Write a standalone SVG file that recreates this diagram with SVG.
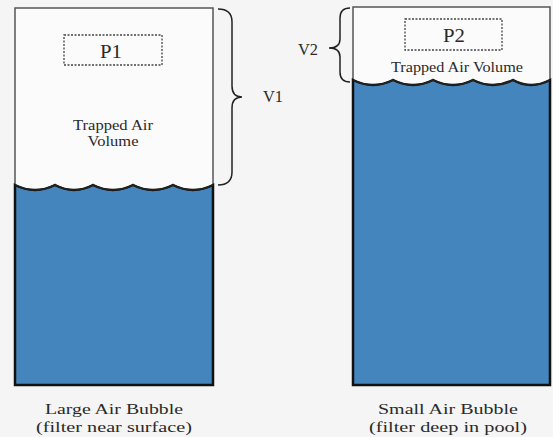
<svg xmlns="http://www.w3.org/2000/svg" width="553" height="437" viewBox="0 0 553 437">
<style>
.bg{fill:#f5f5f5}
.air{fill:#fbfbfb;stroke:#555;stroke-width:1.5}
.water{fill:#4585bd;stroke:#111;stroke-width:2.5;stroke-linejoin:miter}
.wave{fill:none;stroke:#222;stroke-width:1.5}
.pbox{fill:none;stroke:#444;stroke-width:1.3;stroke-dasharray:2 1.5}
.brace{fill:none;stroke:#222;stroke-width:1.5}
text{font-family:"Liberation Serif","Times New Roman",serif;fill:#2a2a2a;text-anchor:middle}
.big{font-size:19px}
.v{font-size:17px}
.small{font-size:15px}
.cap{font-size:15px}
</style>
<rect class="bg" x="0" y="0" width="553" height="437"/>
<g id="large-bubble">
  <rect class="air" x="15" y="8" width="198" height="182"/>
  <path class="water" d="M15,185 Q35,195 55,185 Q74,195 93,185 Q113,195 133,185 Q153,195 173,185 Q193,195 213,185 L213,385 L15,385 Z"/>
  <path class="wave" d="M15,185 Q35,195 55,185 Q74,195 93,185 Q113,195 133,185 Q153,195 173,185 Q193,195 213,185"/>
  <rect class="pbox" x="64" y="35" width="98" height="30"/>
  <text class="big" x="111" y="58" textLength="22" lengthAdjust="spacingAndGlyphs">P1</text>
  <text class="small" x="113" y="130" textLength="80" lengthAdjust="spacingAndGlyphs">Trapped Air</text>
  <text class="small" x="113" y="146" textLength="51" lengthAdjust="spacingAndGlyphs">Volume</text>
  <text class="cap" x="114" y="414" textLength="138" lengthAdjust="spacingAndGlyphs">Large Air Bubble</text>
  <text class="cap" x="114" y="432" textLength="156" lengthAdjust="spacingAndGlyphs">(filter near surface)</text>
</g>
<g id="small-bubble">
  <rect class="air" x="353" y="7" width="197" height="80"/>
  <path class="water" d="M353,80 Q373,90 393,80 Q413,90 433,80 Q453,90 473,80 Q493,90 513,80 Q531,90 550,80 L550,385 L353,385 Z"/>
  <path class="wave" d="M353,80 Q373,90 393,80 Q413,90 433,80 Q453,90 473,80 Q493,90 513,80 Q531,90 550,80"/>
  <rect class="pbox" x="405" y="19" width="97" height="31"/>
  <text class="big" x="454" y="42" textLength="22" lengthAdjust="spacingAndGlyphs">P2</text>
  <text class="small" x="457" y="72" textLength="132" lengthAdjust="spacingAndGlyphs">Trapped Air Volume</text>
  <text class="cap" x="448" y="414" textLength="140" lengthAdjust="spacingAndGlyphs">Small Air Bubble</text>
  <text class="cap" x="448" y="432" textLength="158" lengthAdjust="spacingAndGlyphs">(filter deep in pool)</text>
</g>
<g id="connectors">
  <path class="brace" d="M218,9 Q232,9 232,22 L232,86 Q232,97 242,97 Q232,97 232,108 L232,172 Q232,185 218,185"/>
  <path class="brace" d="M350,8 Q340,8 340,18 L340,39 Q340,48 329,48 Q340,48 340,57 L340,72 Q340,82 350,82"/>
</g>
<g id="label-v1"><text class="v" x="273" y="102" textLength="20" lengthAdjust="spacingAndGlyphs">V1</text></g>
<g id="label-v2"><text class="v" x="308" y="55" textLength="20" lengthAdjust="spacingAndGlyphs">V2</text></g>
</svg>
